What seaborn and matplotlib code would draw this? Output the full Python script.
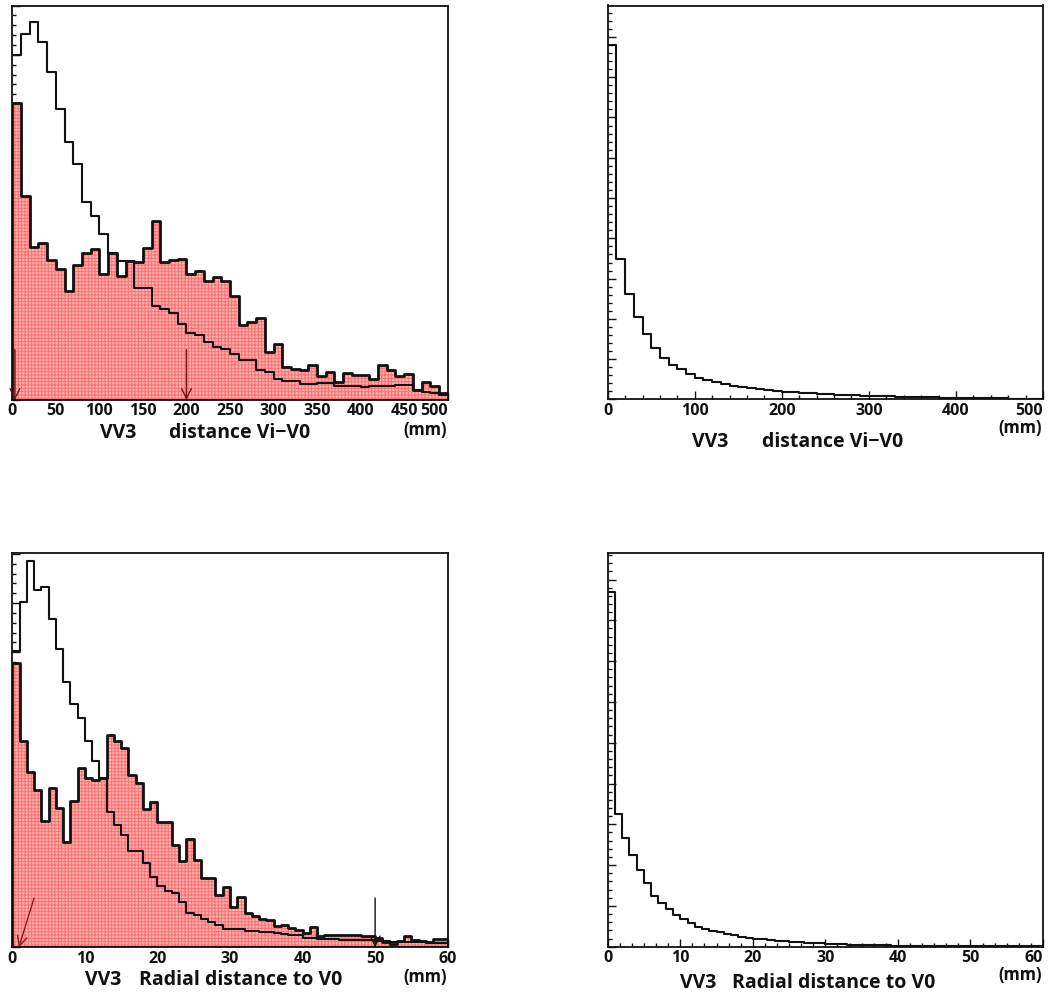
import numpy as np
import pandas as pd
import matplotlib
matplotlib.use("Agg")
import matplotlib.pyplot as plt
from matplotlib.ticker import MultipleLocator, NullFormatter, FixedLocator
from matplotlib.transforms import ScaledTranslation
import seaborn as sns

# ---------------------------------------------------------------- data
# distance Vi-V0 : 50 bins of 10 mm
dist_edges = [float(v) for v in range(0, 501, 10)]
dist_filled = [301, 207, 155, 159, 142, 133, 111, 137, 149, 153,
               128, 149, 126, 141, 140, 154, 182, 140, 142, 143,
               128, 131, 121, 125, 121, 105, 76, 79, 83, 49,
               57, 33, 31, 30, 35, 24, 28, 18, 27, 25,
               25, 21, 35, 30, 24, 26, 10, 18, 14, 7]
dist_outline = [350, 371, 383, 363, 333, 295, 262, 239, 201, 187,
                168, 149, 141, 141, 114, 114, 95, 92, 88, 77,
                68, 66, 59, 54, 52, 47, 41, 41, 30, 28,
                21, 19, 19, 16, 16, 17, 17, 14, 14, 14,
                13, 14, 14, 14, 15, 15, 10, 8, 7, 5]
dist_single = [8810, 3480, 2630, 2050, 1620, 1270, 1020, 850, 750, 630,
               540, 480, 430, 380, 335, 300, 280, 250, 230, 210,
               190, 175, 160, 150, 140, 130, 120, 110, 100, 90,
               85, 80, 75, 70, 65, 60, 55, 50, 45, 40,
               38, 35, 33, 30, 28, 26, 24, 22, 20, 18]

# radial distance to V0 : 60 bins of 1 mm
rad_edges = [float(v) for v in range(0, 61, 1)]
rad_filled = [289, 210, 178, 160, 128, 162, 142, 107, 149, 182,
              172, 170, 172, 216, 210, 203, 175, 167, 141, 148,
              127, 127, 104, 88, 110, 89, 70, 70, 53, 61,
              41, 51, 35, 32, 29, 28, 22, 23, 20, 18,
              15, 21, 12, 13, 13, 13, 13, 13, 12, 11,
              9, 5, 3, 6, 12, 7, 6, 5, 8, 8]
rad_outline = [301, 351, 393, 363, 366, 334, 303, 270, 247, 233,
               210, 189, 172, 138, 124, 114, 98, 98, 86, 72,
               62, 57, 55, 46, 35, 33, 29, 26, 23, 19,
               19, 19, 17, 17, 16, 16, 15, 14, 13, 13,
               9, 9, 8, 8, 8, 7, 7, 7, 7, 7,
               6, 6, 5, 5, 5, 5, 5, 4, 4, 4]
rad_single = [8690, 3250, 2660, 2250, 1880, 1550, 1240, 1060, 920, 780,
              670, 570, 490, 430, 390, 350, 320, 280, 245, 220,
              200, 180, 165, 150, 135, 120, 110, 100, 90, 80,
              72, 65, 58, 52, 47, 42, 38, 34, 30, 27,
              25, 23, 21, 19, 18, 17, 16, 15, 14, 13,
              12, 11, 11, 10, 10, 9, 9, 8, 8, 8]

dist_ticks = list(range(0, 501, 50))
dist_ticks_wide = list(range(0, 501, 100))
rad_ticks = list(range(0, 61, 10))

dist_cuts = [3, 200]
rad_cut_vertical = 50
rad_cut_slanted = [(3.0, 50), (0.9, 0)]

title_dist = ("VV3", "distance Vi\u2212V0")
title_rad = ("VV3", "Radial distance to V0")
unit_label = "(mm)"

# ---------------------------------------------------------------- style
sns.set_style("white")
plt.rcParams["font.family"] = ["Open Sans", "DejaVu Sans"]
plt.rcParams["font.weight"] = "bold"
plt.rcParams["hatch.linewidth"] = 0.8

FILL = "#ffb8b8"
HATCH_COL = "#ff7272"
INK = "#111111"
ARROW = "#6e1414"
FS = 11.5
FS_TITLE = 14

W, H = 1054, 996
fig = plt.figure(figsize=(W / 100, H / 100), dpi=100)


def px_axes(left, top, right, bottom):
    return fig.add_axes([left / W, 1 - bottom / H, (right - left) / W, (bottom - top) / H])


def px_text(x, y, s, ha, size):
    fig.text(x / W, 1 - y / H, s, ha=ha, va="center", fontsize=size,
             fontweight="bold", color=INK)


def hist_frame(df, ax, edges, col, style):
    if style == "filled":
        # pink patterned body, then heavy black outline
        sns.histplot(data=df, x="x", weights=col, bins=edges, element="step",
                     fill=True, color=FILL, facecolor=FILL, edgecolor=HATCH_COL,
                     hatch="+++++", linewidth=0, ax=ax)
        sns.histplot(data=df, x="x", weights=col, bins=edges, element="step",
                     fill=True, color=INK, facecolor="none", edgecolor=INK,
                     linewidth=2.0, ax=ax)
    else:
        sns.histplot(data=df, x="x", weights=col, bins=edges, element="step",
                     fill=False, color=INK, linewidth=1.5, ax=ax)


def style_axes(ax, xmax, ymax, xmajor_ticks, xminor, ymajor, yminor, last_right):
    ax.set_xlim(0, xmax)
    ax.set_ylim(0, ymax)
    ax.set_xlabel("")
    ax.set_ylabel("")
    for s in ax.spines.values():
        s.set_visible(True)
        s.set_linewidth(1.3)
        s.set_color(INK)
    ax.xaxis.set_major_locator(FixedLocator(xmajor_ticks))
    ax.xaxis.set_minor_locator(MultipleLocator(xminor))
    ax.yaxis.set_major_locator(MultipleLocator(ymajor))
    ax.yaxis.set_minor_locator(MultipleLocator(yminor))
    ax.yaxis.set_major_formatter(NullFormatter())
    ax.set_xticks(xmajor_ticks)
    ax.set_xticklabels([str(t) for t in xmajor_ticks], fontsize=FS,
                       fontweight="bold", color=INK)
    if last_right:
        lab = ax.get_xticklabels()[-1]
        lab.set_horizontalalignment("right")
        lab.set_transform(lab.get_transform() +
                          ScaledTranslation(2 / 72, 0, fig.dpi_scale_trans))
    ax.tick_params(axis="both", which="both", direction="in", top=False,
                   right=False, left=True, bottom=True, color=INK)
    ax.tick_params(which="major", length=6, width=1.0, pad=2.5)
    ax.tick_params(which="minor", length=3, width=1.0)
    ax.set_facecolor("white")


def arrow(ax, tail, head, color):
    ax.annotate("", xy=head, xytext=tail,
                arrowprops=dict(arrowstyle="->,head_length=0.7,head_width=0.35",
                                color=color, lw=1.0, shrinkA=0, shrinkB=0))


dist_centers = [(a + b) / 2 for a, b in zip(dist_edges[:-1], dist_edges[1:])]
rad_centers = [(a + b) / 2 for a, b in zip(rad_edges[:-1], rad_edges[1:])]
dist_df = pd.DataFrame({"x": dist_centers, "filled": dist_filled,
                        "outline": dist_outline, "single": dist_single})
rad_df = pd.DataFrame({"x": rad_centers, "filled": rad_filled,
                       "outline": rad_outline, "single": rad_single})

# ---- top left: distance Vi-V0, two samples
ax1 = px_axes(12.3, 5.5, 447.7, 400)
hist_frame(dist_df, ax1, dist_edges, "filled", "filled")
hist_frame(dist_df, ax1, dist_edges, "outline", "line")
style_axes(ax1, 500, 400, dist_ticks, 10, 50, 10, True)
for c in dist_cuts:
    arrow(ax1, (c, 51), (c, 0), ARROW)

# ---- top right: distance Vi-V0, single sample
ax2 = px_axes(607.7, 5.5, 1043, 399.5)
hist_frame(dist_df, ax2, dist_edges, "single", "line")
style_axes(ax2, 500, 9780, dist_ticks_wide, 20, 1000, 200, True)

# ---- bottom left: radial distance, two samples
ax3 = px_axes(12.3, 553, 447.7, 947.3)
hist_frame(rad_df, ax3, rad_edges, "filled", "filled")
hist_frame(rad_df, ax3, rad_edges, "outline", "line")
style_axes(ax3, 60, 401, rad_ticks, 2, 50, 10, False)
arrow(ax3, rad_cut_slanted[0], rad_cut_slanted[1], "#8c1a1a")
arrow(ax3, (rad_cut_vertical, 50), (rad_cut_vertical, 0), INK)

# ---- bottom right: radial distance, single sample
ax4 = px_axes(607.7, 553, 1043, 946.7)
hist_frame(rad_df, ax4, rad_edges, "single", "line")
style_axes(ax4, 60, 9650, rad_ticks, 10 / 6, 1000, 200, True)

# ---- axis captions
px_text(446.7, 429.5, unit_label, "right", FS + 0.5)
px_text(100, 433, title_dist[0], "left", FS_TITLE)
px_text(310, 433, title_dist[1], "right", FS_TITLE)

px_text(1041.7, 427.5, unit_label, "right", FS + 0.5)
px_text(692, 442, title_dist[0], "left", FS_TITLE)
px_text(903, 442, title_dist[1], "right", FS_TITLE)

px_text(446.7, 976.5, unit_label, "right", FS + 0.5)
px_text(85, 979.5, title_rad[0], "left", FS_TITLE)
px_text(342, 979.5, title_rad[1], "right", FS_TITLE)

px_text(1041.7, 975, unit_label, "right", FS + 0.5)
px_text(680, 982.5, title_rad[0], "left", FS_TITLE)
px_text(935, 982.5, title_rad[1], "right", FS_TITLE)

fig.savefig("out.png", dpi=100, facecolor="white")
